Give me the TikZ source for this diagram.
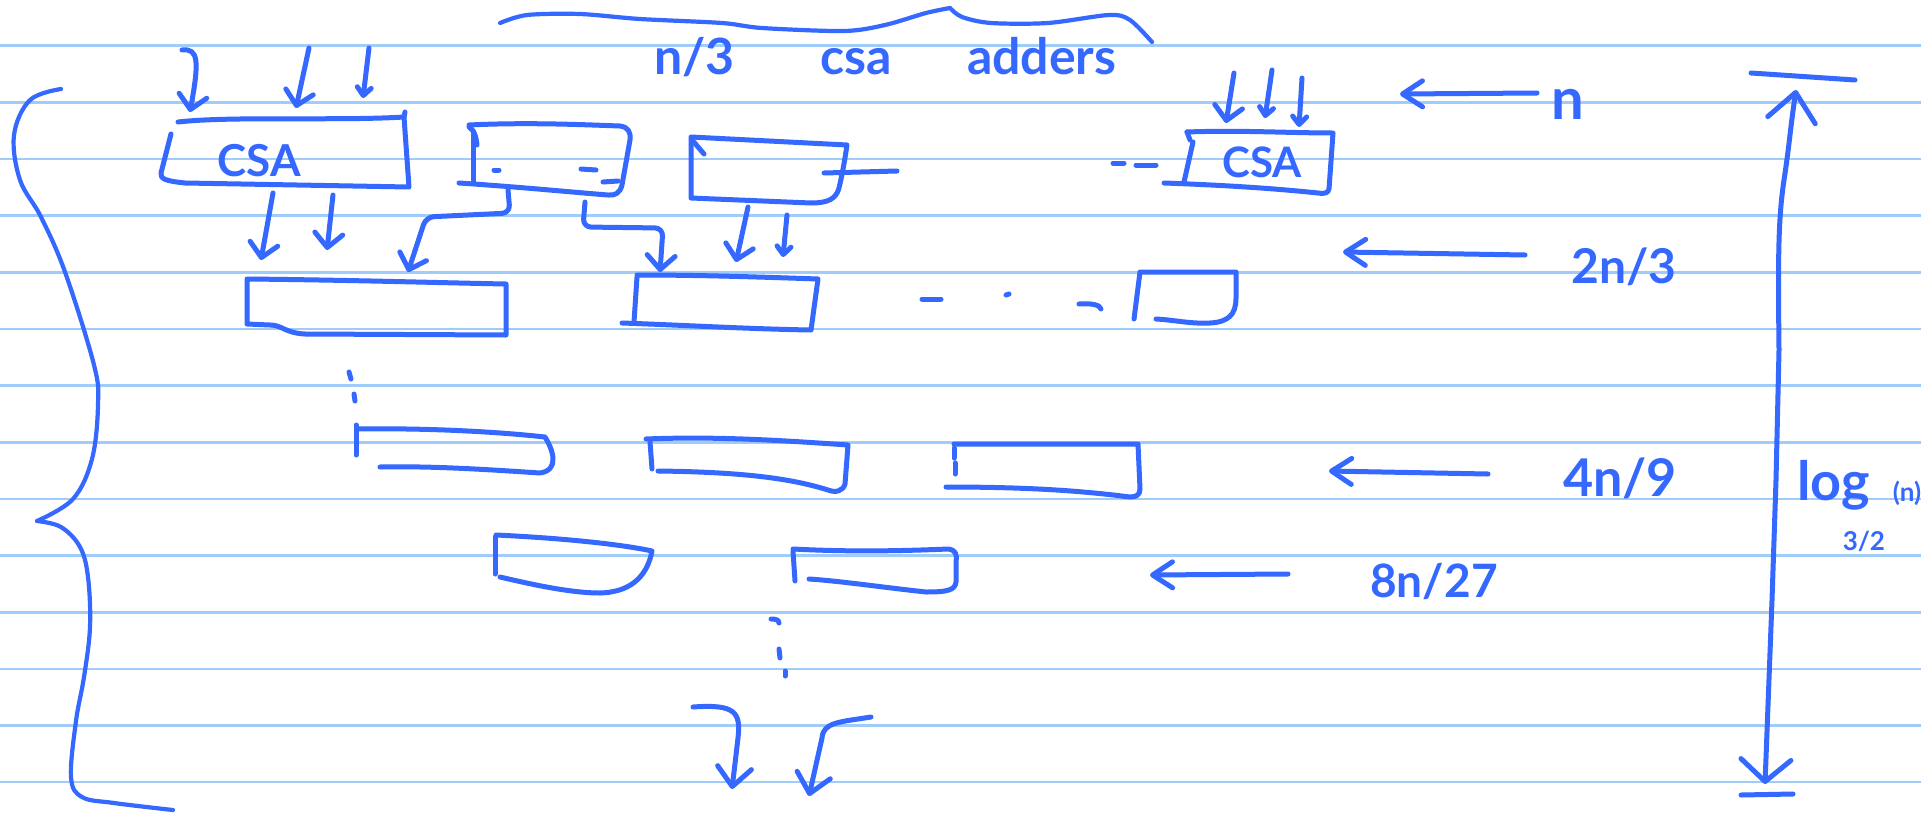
\documentclass[tikz,border=0pt]{standalone}
\usepackage{fontspec}
\setmainfont{Lato}
\usetikzlibrary{arrows.meta,calc}
\definecolor{ink}{RGB}{52,104,255}
\definecolor{rulecol}{RGB}{160,204,250}
\begin{document}
\begin{tikzpicture}[x=1pt,y=-1pt,
  pen/.style={draw=ink,line width=5pt,line cap=round,line join=round},
  thinpen/.style={pen,line width=4.2pt},
  arr/.style={pen,-{Straight Barb[round,length=14pt,width=28pt]}},
  barr/.style={pen,-{Straight Barb[round,length=19pt,width=34pt]}},
  sarr/.style={pen,-{Straight Barb[round,length=8pt,width=14pt]}},
  larr/.style={pen,-{Straight Barb[round,length=20pt,width=26pt]}},
  boxn/.style={draw=none,inner sep=0pt,outer sep=0pt,rectangle},
  hand/.style={text=ink,inner sep=0pt,outer sep=0pt},
]
\fill[white] (0,0) rectangle (1921,814);
\useasboundingbox (0,0) rectangle (1921,814);
\foreach \k in {0,...,13} \draw[rulecol,line width=2.6pt] (0,{45.7+56.65*\k}) -- (1921,{45.7+56.65*\k});

% ---- braces
\draw[thinpen] plot[smooth,tension=0.6] coordinates {(61,89) (30,100) (14,135) (20,180) (41,217) (65,272) (94,365) (98,405) (92,459) (73,499) (37,521)};
\draw[thinpen] plot[smooth,tension=0.6] coordinates {(37,521) (61,527) (80,547) (88,577) (90,627) (84,677) (76,721) (71,777) (82,797) (114,803) (173,810)};
\draw[thinpen] plot[smooth] coordinates {(500,23) (527,15) (580,14) (640,19) (722,23) (762,28) (844,31) (885,25) (926,13) (950,8)};
\draw[thinpen] plot[smooth] coordinates {(950,8) (962,17) (991,23) (1048,23) (1109,15) (1130,20) (1152,42)};

% ---- title
\node[hand,anchor=base west,font=\fontsize{50}{50}\selectfont\bfseries] (title) at (654,74)
  {\makebox[95pt][l]{n/3}\hspace{71pt}\makebox[77pt][l]{csa}\hspace{70pt}\makebox[161pt][l]{adders}};

% ---- row 1
\node[boxn,minimum width=246pt,minimum height=69pt] (b1) at (286,152.5) {};
\draw[pen] (178,122) .. controls (230,116) and (340,121) .. (404,117) -- (405,112);
\draw[pen] (404,117) -- (409,187) -- (185,183) .. controls (166,181) and (160,179) .. (161,173) -- (171,134);
\node[hand,font=\fontsize{44}{44}\selectfont\bfseries,anchor=base] (b1t) at (259,176) {CSA};

\node[boxn,minimum width=163pt,minimum height=70pt] (b2) at (547.5,160) {};
\draw[pen] (469,125) .. controls (530,122) and (590,125) .. (620,126) .. controls (628,127) and (631,132) .. (630,140) -- (622,185) .. controls (620,193) and (615,196) .. (608,195) .. controls (570,192) and (520,187) .. (459,183);
\draw[pen] (473,131) -- (473,182);
\draw[pen] (469,127) .. controls (474,130) and (476,136) .. (477,145);
\draw[pen] (603,182) -- (618,181);
\draw[pen] (494,170) -- (499,170);
\draw[pen] (581,169) -- (596,170);

\node[boxn,minimum width=156pt,minimum height=63pt] (b3) at (769,168.5) {};
\draw[pen] (691,198) -- (691,137) -- (847,145) .. controls (844,165) and (842,175) .. (839,188) .. controls (836,199) and (828,203) .. (811,203) -- (691,198);
\draw[pen] (693,141) -- (704,154);
\draw[pen] (824,173) -- (897,171);

\draw[pen] (1113,163) -- (1124,163);
\draw[pen] (1136,165) -- (1156,165);

\node[boxn,minimum width=148pt,minimum height=60pt] (b4) at (1259,162) {};
\draw[pen] (1187,132) .. controls (1240,130) and (1290,133) .. (1333,133) -- (1329,189) .. controls (1328,193) and (1325,194) .. (1318,193) .. controls (1270,188) and (1220,185) .. (1164,183);
\draw[pen] (1193,142) -- (1184,182);
\draw[pen] (1187,132) -- (1190,140);
\node[hand,font=\fontsize{42}{42}\selectfont\bfseries,anchor=base] (b4t) at (1262,177) {CSA};

% ---- row 2
\node[boxn,minimum width=259pt,minimum height=56pt] (r2a) at (376.5,307) {};
\draw[pen] (247,324) -- (247,279) .. controls (350,280) and (450,283) .. (506,284) -- (506,335) -- (305,334) .. controls (285,333) and (282,325) .. (270,325) -- cycle;

\node[boxn,minimum width=184pt,minimum height=55pt] (r2b) at (726,302.5) {};
\draw[pen] (637,277) -- (634,322);
\draw[pen] (637,275) .. controls (700,275) and (760,277) .. (818,279) -- (811,330) .. controls (750,329) and (680,325) .. (622,323);

\draw[pen] (922,299) -- (941,299);
\draw[pen] (1006,295) -- (1009,294);
\draw[pen] (1079,304) .. controls (1092,303) and (1100,305) .. (1101,309);

\node[boxn,minimum width=101pt,minimum height=52pt] (r2c) at (1185.5,298) {};
\draw[pen] (1134,319) -- (1140,272) -- (1236,272) -- (1236,298) .. controls (1236,315) and (1228,322) .. (1210,323) .. controls (1190,324) and (1175,320) .. (1156,319);

\draw[pen] (349,372) -- (351,379);
\draw[pen] (354,394) -- (355,401);

% ---- row 3
\node[boxn,minimum width=199pt,minimum height=45pt] (r3a) at (455.5,451.5) {};
\draw[pen] (356,425) -- (356,455);
\draw[pen] (358,429) .. controls (420,428) and (490,431) .. (545,437) .. controls (553,450) and (560,470) .. (540,473) .. controls (480,469) and (430,466) .. (380,467);

\node[boxn,minimum width=202pt,minimum height=52pt] (r3b) at (747,465) {};
\draw[pen] (650,442) -- (652,469);
\draw[pen] (646,439) .. controls (720,436) and (790,441) .. (848,445) -- (845,484) .. controls (843,491) and (836,493) .. (828,490) .. controls (790,478) and (740,472) .. (658,471);

\node[boxn,minimum width=194pt,minimum height=53pt] (r3c) at (1043,470.5) {};
\draw[pen] (954,444) -- (1138,444) -- (1140,489) .. controls (1140,495) and (1136,497) .. (1130,497) .. controls (1090,492) and (1040,487) .. (946,487);
\draw[pen] (954,448) -- (954,458) (955,463) -- (955,474);

% ---- row 4
\node[boxn,minimum width=159pt,minimum height=58pt] (r4a) at (574.5,564) {};
\draw[pen] (495,537) -- (495,574);
\draw[pen] (496,535) .. controls (560,538) and (620,544) .. (652,551) .. controls (648,572) and (635,592) .. (600,593) .. controls (570,593) and (530,584) .. (500,577);

\node[boxn,minimum width=163pt,minimum height=43pt] (r4b) at (874.5,570.5) {};
\draw[pen] (793,551) -- (795,581);
\draw[pen] (793,549) .. controls (850,552) and (900,551) .. (948,549) .. controls (956,550) and (957,554) .. (956,562) -- (956,582) .. controls (955,590) and (948,592) .. (926,592) .. controls (880,587) and (840,581) .. (809,579);

\draw[pen] (771,619) .. controls (776,619) and (779,620) .. (779,623);
\draw[pen] (779,649) -- (780,658);
\draw[pen] (785,671) -- (785,676);

% ---- connectors
\coordinate (i1) at (182,50);
\coordinate (i2) at (309,48);
\coordinate (i3) at (369,48);
\coordinate (i4) at (1234,73);
\coordinate (i5) at (1272,70);
\coordinate (i6) at (1302,78);
\draw[arr] (i1) .. controls (199,48) and (199,62) .. ($(b1.north)+(-96,-6)$);
\draw[arr] (i2) -- ($(b1.north)+(10,-10)$);
\draw[sarr] (i3) -- ($(b1.north)+(77,-20)$);
\draw[arr] ($(b1.south)+(-13,6)$) -- ($(r2a.north)+(-115.5,-19)$);
\draw[arr] ($(b1.south)+(47,8)$) -- ($(r2a.north)+(-49.5,-29)$);
\draw[arr,rounded corners=8pt] ($(b2.south)+(-39.5,-5)$) -- (510,213) -- (426,217) -- ($(r2a.north)+(31.5,-7)$);
\draw[arr,rounded corners=8pt] ($(b2.south)+(37.5,7)$) -- (583,227) -- (663,228) -- ($(r2b.north)+(-66,-3)$);
\draw[arr] ($(b3.south)+(-21,7)$) -- ($(r2b.north)+(10,-13)$);
\draw[sarr] ($(b3.south)+(18,15)$) -- ($(r2b.north)+(57,-18)$);
\draw[arr] (i4) -- ($(b4.north)+(-33,-9)$);
\draw[sarr] (i5) -- ($(b4.north)+(6,-14)$);
\draw[sarr] (i6) -- ($(b4.north)+(40,-5)$);

\coordinate (o1) at (693,707);
\coordinate (o1e) at (732,789);
\coordinate (o2) at (871,717);
\coordinate (o2e) at (809,796);
\draw[barr] (o1) .. controls (735,704) and (741,712) .. (738,738) -- (o1e);
\draw[barr] (o2) .. controls (840,722) and (823,722) .. (822,738) -- (o2e);

% ---- level labels
\node[hand,font=\fontsize{58}{58}\selectfont\bfseries,anchor=base] (ln) at (1568,119) {n};
\node[hand,font=\fontsize{48}{48}\selectfont\bfseries,anchor=base] (l2) at (1624,283) {2n/3};
\node[hand,font=\fontsize{52}{52}\selectfont\bfseries,anchor=base] (l4) at (1620,496) {4n/9};
\node[hand,font=\fontsize{46}{46}\selectfont\bfseries,anchor=base] (l8) at (1434,597) {8n/27};
\coordinate (ns) at (1537,93);   \coordinate (ne) at (1400,94);
\coordinate (s2) at (1525,255);  \coordinate (e2) at (1343,252);
\coordinate (s4) at (1488,474);  \coordinate (e4) at (1329,471);
\coordinate (s8) at (1288,574);  \coordinate (e8) at (1150,575);
\draw[larr] (ns) -- (ne);
\draw[larr] (s2) -- (e2);
\draw[larr] (s4) -- (e4);
\draw[larr] (s8) -- (e8);

% ---- height arrow
\coordinate (vt) at (1796,90);
\coordinate (vb) at (1765,784);
\draw[pen] (1751,73) -- (1855,80);
\draw[pen] (1741,795) -- (1793,794);
\draw[pen,{Straight Barb[round,length=28pt,width=48pt]}-{Straight Barb[round,length=22pt,width=50pt]}]
  (vt) .. controls (1790,130) and (1790,140) .. (1784,180) .. controls (1778,220) and (1778,260) .. (1779,350) -- (1776,480) -- (1772,600) -- (vb);
\node[hand,anchor=base west,font=\fontsize{54}{54}\selectfont\bfseries] (lg) at (1797,500)
  {log\hspace{-27pt}\rlap{\hspace{50pt}\raisebox{-1pt}{\fontsize{26}{26}\selectfont(n)}}\raisebox{-50pt}{\fontsize{26}{26}\selectfont 3/2}};
\end{tikzpicture}
\end{document}
